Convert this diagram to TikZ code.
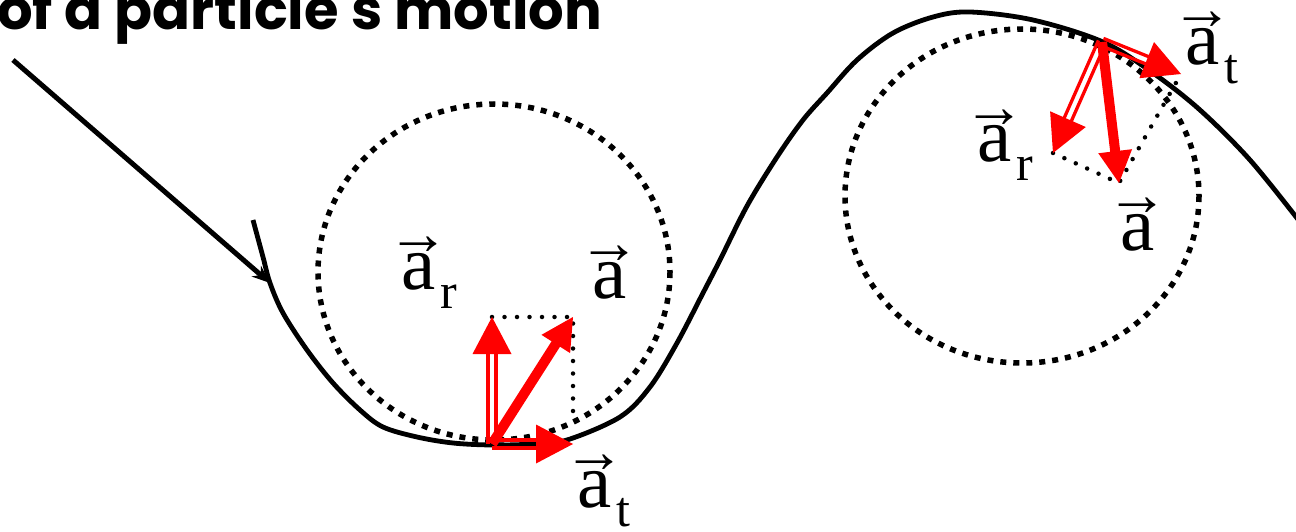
\documentclass[tikz,border=0pt]{standalone}
\usepackage{fontspec}
\usepackage{amsmath}
\usetikzlibrary{calc,arrows.meta}
\newfontfamily\titlefont{Poppins}
\newfontfamily\labfont{Liberation Serif}
\newcommand\vecA{\ooalign{a\cr\hidewidth\raisebox{35pt}{\fontsize{62}{62}\selectfont →}\hidewidth\cr}}
\newcommand\veclab[1]{{\labfont\fontsize{77}{77}\selectfont\vecA\ifx&#1&\else\hspace{5pt}\raisebox{-19pt}{\fontsize{50}{50}\selectfont #1}\fi}}
\newcommand\hollowvec[2]{%
  \path ($(#2)!37pt!(#1)$) coordinate (hb) ($(#2)!35pt!(#1)$) coordinate (hs);
  \fill[red] (#2) -- ($(hb)!19.5pt!90:(#2)$) -- ($(hb)!19.5pt!-90:(#2)$) -- cycle;
  \draw[red, line width=3.3pt] ($(#1)!3.9pt!90:(hs)$) -- ($(hs)!3.9pt!-90:(#1)$);
  \draw[red, line width=3.3pt] ($(#1)!3.9pt!-90:(hs)$) -- ($(hs)!3.9pt!90:(#1)$);
}
\newcommand\solidvec[2]{%
  \path ($(#2)!32pt!(#1)$) coordinate (hb) ($(#2)!30pt!(#1)$) coordinate (hs);
  \fill[red] (#2) -- ($(hb)!17pt!90:(#2)$) -- ($(hb)!17pt!-90:(#2)$) -- cycle;
  \draw[red, line width=10pt] (#1) -- (hs);
}
\tikzset{
  circdots/.style={line width=5.5pt, dash pattern=on 6pt off 7pt},
  rectdots/.style={line width=4.5pt, line cap=round, dash pattern=on 0pt off 12.5pt},
  pathline/.style={line width=4.8pt},
  lab/.style={anchor=base west, inner sep=0pt}
}
\begin{document}
\begin{tikzpicture}[x=1pt,y=-1pt]
\useasboundingbox (0,0) rectangle (1296,532);
% osculating circles
\draw[circdots] (494,272) ellipse [x radius=176, y radius=168];
\draw[circdots] (1022,196) ellipse [x radius=177, y radius=167];
% trajectory
\draw[pathline] plot[smooth, tension=0.55] coordinates {
 (253,220) (263,257) (270,283) (283,313) (307,350) (333,383) (360,410) (383,427)
 (417,437) (453,443) (492,445) (533,444) (567,440) (620,417) (650,387) (677,343)
 (703,293) (720,260) (747,206) (777,157) (803,120) (827,93) (857,60) (893,33)
 (933,17) (970,12) (1033,20) (1103,42) (1153,73) (1200,110) (1250,160) (1300,222)};
% title and pointer
\node[anchor=base west, inner sep=0pt, font=\titlefont\bfseries\fontsize{56}{56}\selectfont] (title) at (-3,30) {of a particle's motion};
\coordinate (P0) at (13,60);
\coordinate (P1) at (270,283);
\draw[line width=5pt, -{Stealth[length=18pt,width=14pt]}] (P0) -- (P1);
% bottom vectors
\coordinate (B0) at (492,444);
\coordinate (Br) at (492,317);
\coordinate (Ba) at (573,317);
\coordinate (Bt) at (573,444);
\coordinate (Bd) at (573,420);
\draw[rectdots] (Br) -- (Ba) -- (Bd);
\hollowvec{B0}{Bt}
\hollowvec{B0}{Br}
\solidvec{B0}{Ba}
% top vectors
\coordinate (T0) at (1102,42);
\coordinate (Tr) at (1053,153);
\coordinate (Ta) at (1119,183);
\coordinate (Tt) at (1181,74);
\draw[rectdots] (Tr) -- (Ta) -- (Tt);
\hollowvec{T0}{Tt}
\hollowvec{T0}{Tr}
\solidvec{T0}{Ta}
% labels
\node[lab] (lbr) at (401,289) {\veclab{r}};
\node[lab] (lba) at (592,298) {\veclab{}};
\node[lab] (lbt) at (577,507) {\veclab{t}};
\node[lab] (ltt) at (1185,65) {\veclab{t}};
\node[lab] (ltr) at (977,162) {\veclab{r}};
\node[lab] (lta) at (1120,250) {\veclab{}};
\end{tikzpicture}
\end{document}
